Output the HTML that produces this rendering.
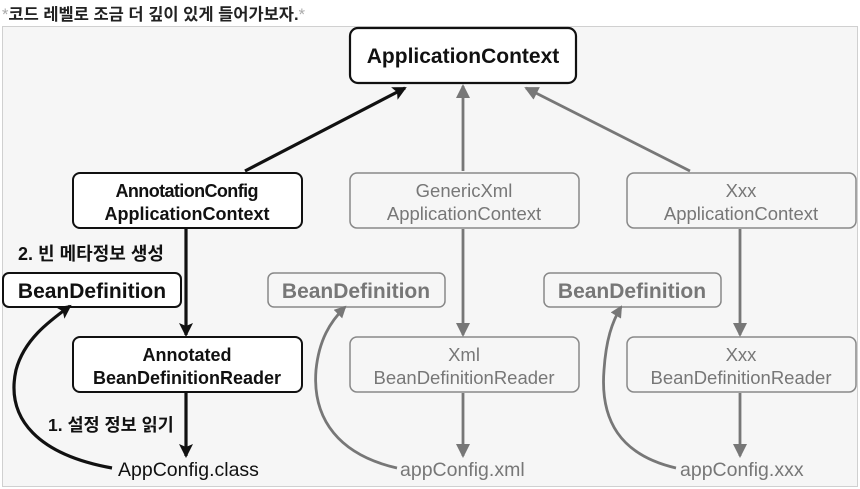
<!DOCTYPE html>
<html><head><meta charset="utf-8"><style>
body{margin:0;width:860px;height:489px;background:#fff;overflow:hidden}
svg{display:block}
text{font-family:"Liberation Sans","Noto Sans CJK KR",sans-serif}
</style></head><body>
<svg width="860" height="489" viewBox="0 0 860 489">
<defs>
<marker id="ab" markerWidth="16" markerHeight="16" refX="12" refY="7" orient="auto" markerUnits="userSpaceOnUse"><path d="M0,0 L14,7 L0,14 L3,7 Z" fill="#111"/></marker>
<marker id="ag" markerWidth="16" markerHeight="16" refX="12" refY="7" orient="auto" markerUnits="userSpaceOnUse"><path d="M0,0 L14,7 L0,14 Z" fill="#777"/></marker>
<marker id="ag2" markerWidth="16" markerHeight="16" refX="10" refY="6" orient="auto" markerUnits="userSpaceOnUse"><path d="M0,0 L12,6 L0,12 Z" fill="#777"/></marker>
</defs>
<text x="2" y="20" font-size="16.5" font-weight="bold" fill="#222"><tspan fill="#aaa" font-weight="normal">*</tspan>코드 레벨로 조금 더 깊이 있게 들어가보자.<tspan fill="#aaa" font-weight="normal">*</tspan></text>
<rect x="2.5" y="26.5" width="855" height="460" fill="#f6f6f6" stroke="#d0d0d0"/>

<rect x="350" y="28" width="226" height="55" rx="8" fill="#fff" stroke="#111" stroke-width="2.2"/>
<text x="463" y="63" font-size="21" text-anchor="middle" font-weight="bold" fill="#111">ApplicationContext</text>

<rect x="73" y="173" width="229" height="55" rx="7" fill="#fff" stroke="#111" stroke-width="2"/>
<text x="187" y="197" font-size="18" text-anchor="middle" font-weight="bold" fill="#111" textLength="143">AnnotationConfig</text>
<text x="187" y="220" font-size="18" text-anchor="middle" font-weight="bold" fill="#111">ApplicationContext</text>

<rect x="350" y="173" width="229" height="55" rx="7" fill="#f6f6f6" stroke="#888" stroke-width="1.5"/>
<text x="464" y="197" font-size="18.5" text-anchor="middle" fill="#777">GenericXml</text>
<text x="464" y="220" font-size="18.5" text-anchor="middle" fill="#777">ApplicationContext</text>

<rect x="627" y="173" width="229" height="55" rx="7" fill="#f6f6f6" stroke="#888" stroke-width="1.5"/>
<text x="741" y="197" font-size="18.5" text-anchor="middle" fill="#777">Xxx</text>
<text x="741" y="220" font-size="18.5" text-anchor="middle" fill="#777">ApplicationContext</text>

<text x="18" y="260" font-size="18" font-weight="bold" fill="#111">2. 빈 메타정보 생성</text>
<rect x="3" y="273" width="178" height="34" rx="6" fill="#fff" stroke="#111" stroke-width="2"/>
<text x="92" y="298" font-size="21" text-anchor="middle" font-weight="bold" fill="#111">BeanDefinition</text>

<rect x="268" y="273" width="177" height="34" rx="6" fill="#f6f6f6" stroke="#888" stroke-width="1.5"/>
<text x="356" y="298" font-size="21" text-anchor="middle" font-weight="bold" fill="#777">BeanDefinition</text>
<rect x="544" y="273" width="177" height="34" rx="6" fill="#f6f6f6" stroke="#888" stroke-width="1.5"/>
<text x="632" y="298" font-size="21" text-anchor="middle" font-weight="bold" fill="#777">BeanDefinition</text>

<rect x="73" y="337" width="229" height="55" rx="7" fill="#fff" stroke="#111" stroke-width="2"/>
<text x="187" y="361" font-size="18" text-anchor="middle" font-weight="bold" fill="#111">Annotated</text>
<text x="187" y="384" font-size="18" text-anchor="middle" font-weight="bold" fill="#111">BeanDefinitionReader</text>

<rect x="350" y="337" width="229" height="55" rx="7" fill="#f6f6f6" stroke="#888" stroke-width="1.5"/>
<text x="464" y="361" font-size="18.5" text-anchor="middle" fill="#777">Xml</text>
<text x="464" y="384" font-size="18.5" text-anchor="middle" fill="#777">BeanDefinitionReader</text>

<rect x="627" y="337" width="229" height="55" rx="7" fill="#f6f6f6" stroke="#888" stroke-width="1.5"/>
<text x="741" y="361" font-size="18.5" text-anchor="middle" fill="#777">Xxx</text>
<text x="741" y="384" font-size="18.5" text-anchor="middle" fill="#777">BeanDefinitionReader</text>

<text x="48" y="431" font-size="17.5" font-weight="bold" fill="#111">1. 설정 정보 읽기</text>
<text x="118" y="476" font-size="19.5" fill="#111">AppConfig.class</text>
<text x="400" y="476" font-size="19.5" fill="#777">appConfig.xml</text>
<text x="680" y="476" font-size="19.5" fill="#777">appConfig.xxx</text>

<g fill="none" stroke-width="3.2">
<path d="M245,171 L405,88" stroke="#111" marker-end="url(#ab)"/>
<path d="M186,229 L186,335" stroke="#111" marker-end="url(#ab)"/>
<path d="M186,393 L186,456" stroke="#111" marker-end="url(#ab)"/>
<path d="M112,468 C40,455 5,420 16,370 C24,340 48,322 70,306" stroke="#111" marker-end="url(#ab)"/>
</g>
<g fill="none" stroke-width="2.8" stroke="#777">
<path d="M463,171 L463,86" marker-end="url(#ag)"/>
<path d="M690,171 L526,88" marker-end="url(#ag)"/>
<path d="M463,229 L463,335" marker-end="url(#ag)"/>
<path d="M463,393 L463,456" marker-end="url(#ag)"/>
<path d="M740,229 L740,335" marker-end="url(#ag)"/>
<path d="M740,393 L740,456" marker-end="url(#ag)"/>
<path d="M397,468 C340,455 312,420 316,370 C319,340 330,322 345,307" marker-end="url(#ag2)"/>
<path d="M676,468 C620,455 600,420 604,370 C606,340 612,322 621,307" marker-end="url(#ag2)"/>
</g>
</svg>
</body></html>
